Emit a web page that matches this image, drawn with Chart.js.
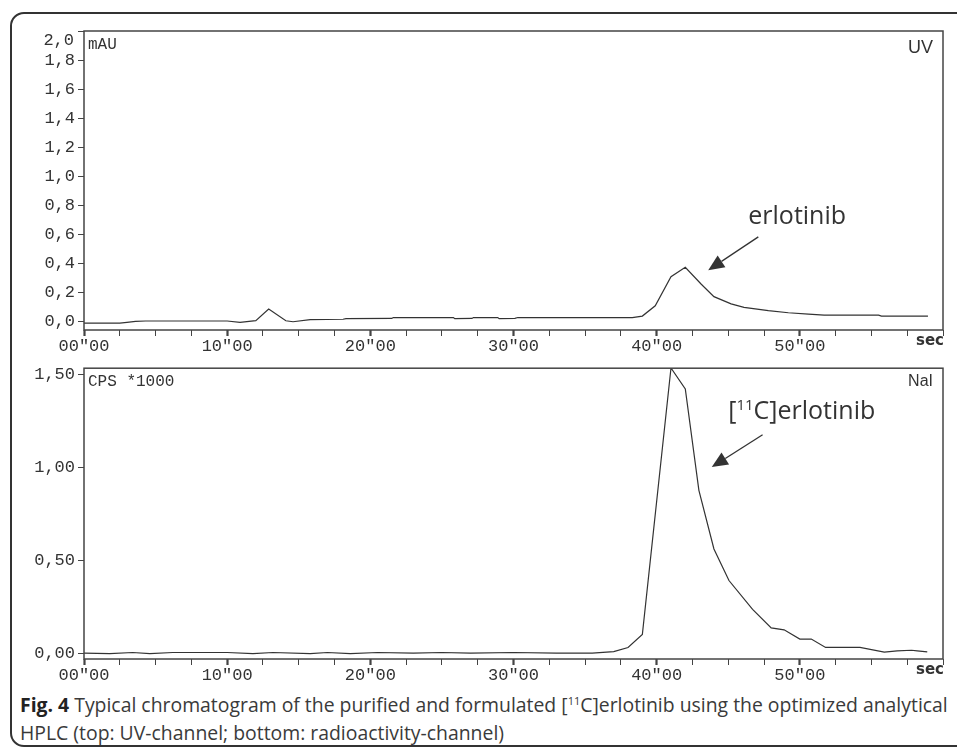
<!DOCTYPE html>
<html>
<head>
<meta charset="utf-8">
<script src="https://cdn.jsdelivr.net/npm/chart.js@4.4.1/dist/chart.umd.min.js"></script>
<style>
    html, body { margin: 0; padding: 0; background: #fff; overflow: hidden; }
    #page { position: relative; width: 957px; height: 749px; }
    #frame { position: absolute; left: 10px; top: 12px; width: 975px; height: 735px;
             border: 2px solid #333; border-radius: 14px; box-sizing: border-box; }
    canvas { position: absolute; left: 0; }
    #uvChart { top: 0; }
    #naiChart { top: 355px; }
    #caption { position: absolute; left: 20px; top: 691px; white-space: nowrap;
               font-family: 'Open Sans', sans-serif; font-size: 19.4px; line-height: 28px; color: #3a3a3a; }
    #caption b { color: #222; }
    #caption sup { font-size: 11px; line-height: 0; vertical-align: 7px; }
</style>
</head>
<body>
<div id="page">
    <div id="frame"></div>
    <canvas id="uvChart" width="957" height="355"></canvas>
    <canvas id="naiChart" width="957" height="335"></canvas>
    <div id="caption"><b>Fig. 4</b> Typical chromatogram of the purified and formulated [<sup>11</sup>C]erlotinib using the optimized analytical<br>HPLC (top: UV-channel; bottom: radioactivity-channel)</div>
</div>

<script>
// ========================================
// DATA
// ========================================

// time axis ticks (minutes), labels only on the majors
const xTickValues = [0, 2.5, 5, 7.5, 10, 12.5, 15, 17.5, 20, 22.5, 25, 27.5, 30,
                     32.5, 35, 37.5, 40, 42.5, 45, 47.5, 50, 52.5, 55, 57.5, 60];
const xMajorValues = [0, 10, 20, 30, 40, 50];
const xMajorLabels = ['00"00', '10"00', '20"00', '30"00', '40"00', '50"00'];

// top: UV channel (mAU)
const uvTicks  = [0, 0.2, 0.4, 0.6, 0.8, 1.0, 1.2, 1.4, 1.6, 1.8, 2.0];
const uvLabels = ['0,0', '0,2', '0,4', '0,6', '0,8', '1,0', '1,2', '1,4', '1,6', '1,8', '2,0'];
const uvTime  = [0, 2.5, 3.0, 3.6, 4.3, 10.0, 10.9, 12.0, 12.9, 14.1,
                 14.6, 15.8, 18.1, 18.3, 21.5, 21.6, 25.8, 25.9, 27.1, 27.2,
                 28.9, 29.0, 30.1, 30.3, 38.3, 39.0, 39.9, 41.0, 42.0, 43.1,
                 44.0, 45.2, 46.1, 47.8, 49.2, 50.6, 51.7, 55.5, 55.7, 58.95];
const uvValue = [-0.015, -0.015, -0.01, -0.003, 0.0, 0.0, -0.01, 0.002, 0.083, 0.002,
                 -0.005, 0.01, 0.012, 0.017, 0.018, 0.024, 0.024, 0.016, 0.018, 0.024,
                 0.024, 0.016, 0.018, 0.024, 0.024, 0.034, 0.105, 0.305, 0.37, 0.255,
                 0.168, 0.118, 0.094, 0.071, 0.057, 0.048, 0.041, 0.041, 0.034, 0.034];

// bottom: NaI radioactivity channel (CPS *1000)
const naiTicks  = [0, 0.5, 1.0, 1.5];
const naiLabels = ['0,00', '0,50', '1,00', '1,50'];
const naiTime  = [0, 1.8, 3.4, 4.6, 6.2, 10, 11.8, 13.2, 15.8, 17,
                  18.6, 20.5, 23, 25, 27, 30, 33, 35.5, 37, 38,
                  39, 41, 42, 42.95, 44, 45.05, 46.7, 48, 48.9, 50,
                  50.8, 51.8, 54.2, 55.9, 56.8, 57.8, 58.2, 58.9];
const naiValue = [0.0, -0.003, 0.003, -0.003, 0.003, 0.003, -0.003, 0.003, -0.003, 0.003,
                  -0.003, 0.003, 0.0, 0.003, 0.0, 0.003, 0.0, 0.0, 0.008, 0.03,
                  0.1, 1.533, 1.42, 0.875, 0.56, 0.39, 0.235, 0.135, 0.125, 0.075,
                  0.075, 0.03, 0.03, 0.005, 0.012, 0.015, 0.012, 0.006];

// ========================================
// HELPERS
// ========================================
const MONO = '"Liberation Mono", "Courier New", monospace';
const INK = '#333';

function drawArrow(ctx, x1, y1, x2, y2) {
    const ang = Math.atan2(y2 - y1, x2 - x1);
    const len = 16, half = 7;
    const bx = x2 - len * Math.cos(ang), by = y2 - len * Math.sin(ang);
    ctx.beginPath();
    ctx.moveTo(x1, y1);
    ctx.lineTo(bx, by);
    ctx.stroke();
    ctx.beginPath();
    ctx.moveTo(x2, y2);
    ctx.lineTo(bx + half * Math.sin(ang), by - half * Math.cos(ang));
    ctx.lineTo(bx - half * Math.sin(ang), by + half * Math.cos(ang));
    ctx.closePath();
    ctx.fill();
}

// frame, channel names, peak annotations
function decorPlugin(cfg) {
    return {
        id: 'decor',
        afterDraw(chart) {
            const { ctx, chartArea: a, scales: { x, y } } = chart;
            ctx.save();
            ctx.strokeStyle = '#444';
            ctx.lineWidth = 1.5;
            ctx.strokeRect(a.left, a.top, a.right - a.left, a.bottom - a.top);

            ctx.fillStyle = INK;
            ctx.textBaseline = 'middle';

            // unit in top-left corner
            ctx.textAlign = 'left';
            ctx.font = '16px ' + MONO;
            ctx.fillText(cfg.unit, a.left + 4, a.top + 14);

            // detector name in top-right corner
            ctx.textAlign = 'right';
            ctx.font = cfg.detectorSize + 'px "Liberation Sans", Arial, sans-serif';
            ctx.fillText(cfg.detector, a.right - 10, a.top + cfg.detectorDy);

            // "sec" at the end of the time axis
            ctx.font = 'bold 15px "DejaVu Sans", sans-serif';
            ctx.fillText('sec', a.right + 1, a.bottom + 11);

            // top y label sits a little lower than its tick
            if (cfg.topLabel) {
                ctx.font = '17px ' + MONO;
                ctx.fillText(cfg.topLabel, a.left - 10, y.getPixelForValue(y.max) + 9);
            }

            // peak label + arrow
            const n = cfg.note;
            ctx.textAlign = 'left';
            ctx.font = '25px "Open Sans", sans-serif';
            let tx = x.getPixelForValue(n.textX);
            const ty = y.getPixelForValue(n.textY);
            if (n.sup) {
                ctx.fillText('[', tx, ty);
                tx += ctx.measureText('[').width;
                ctx.font = '15px "Open Sans", sans-serif';
                ctx.fillText(n.sup, tx, ty - 7);
                tx += ctx.measureText(n.sup).width;
                ctx.font = '25px "Open Sans", sans-serif';
                ctx.fillText(n.text, tx, ty);
            } else {
                ctx.fillText(n.text, tx, ty);
            }
            ctx.strokeStyle = INK;
            ctx.lineWidth = 1.3;
            drawArrow(ctx,
                x.getPixelForValue(n.fromX), y.getPixelForValue(n.fromY),
                x.getPixelForValue(n.toX), y.getPixelForValue(n.toY));
            ctx.restore();
        }
    };
}

function makeChromatogram(canvasId, times, values, yCfg, decor) {
    const el = document.getElementById(canvasId);
    const points = times.map((t, i) => ({ x: t, y: values[i] }));

    return new Chart(el, {
        type: 'line',
        data: {
            datasets: [{
                data: points,
                borderColor: INK,
                borderWidth: 1.2,
                pointRadius: 0,
                tension: 0,
                fill: false
            }]
        },
        options: {
            responsive: false,
            animation: false,
            devicePixelRatio: 1,
            events: [],
            layout: { autoPadding: false, padding: { left: 0, top: yCfg.padTop, right: 14, bottom: 0 } },
            plugins: { legend: { display: false }, tooltip: { enabled: false } },
            scales: {
                x: {
                    type: 'linear',
                    min: 0,
                    max: 60,
                    afterBuildTicks: axis => { axis.ticks = xTickValues.map(v => ({ value: v })); },
                    afterFit: axis => { axis.height = yCfg.xAxisHeight; },
                    border: { display: false },
                    grid: {
                        drawOnChartArea: false,
                        tickLength: 6,
                        color: '#444',
                        tickWidth: c => (c.tick && xMajorValues.includes(c.tick.value)) ? 2.2 : 1
                    },
                    ticks: {
                        autoSkip: false,
                        maxRotation: 0,
                        padding: 0,
                        color: INK,
                        font: { family: MONO, size: 17 },
                        callback: v => {
                            const k = xMajorValues.indexOf(v);
                            return k >= 0 ? xMajorLabels[k] : '';
                        }
                    }
                },
                y: {
                    min: yCfg.min,
                    max: yCfg.max,
                    afterBuildTicks: axis => { axis.ticks = yCfg.ticks.map(v => ({ value: v })); },
                    afterFit: axis => { axis.width = 84; },
                    border: { display: false },
                    grid: { drawOnChartArea: false, tickLength: 6, color: '#444' },
                    ticks: {
                        padding: 3,
                        color: INK,
                        font: { family: MONO, size: 17 },
                        callback: (v, i) => (yCfg.hideTop && i === yCfg.ticks.length - 1) ? '' : yCfg.labels[i]
                    }
                }
            }
        },
        plugins: [decorPlugin(decor)]
    });
}

// ========================================
// CHARTS
// ========================================
document.addEventListener('DOMContentLoaded', function () {
    makeChromatogram('uvChart', uvTime, uvValue,
        { min: -0.062, max: 2.0, ticks: uvTicks, labels: uvLabels, hideTop: true, padTop: 31, xAxisHeight: 25 },
        {
            unit: 'mAU', detector: 'UV', detectorSize: 18, detectorDy: 17, topLabel: '2,0',
            note: { text: 'erlotinib', textX: 46.4, textY: 0.72, fromX: 47.1, fromY: 0.58, toX: 43.6, toY: 0.35 }
        });

    makeChromatogram('naiChart', naiTime, naiValue,
        { min: -0.032, max: 1.532, ticks: naiTicks, labels: naiLabels, hideTop: false, padTop: 7, xAxisHeight: 31 },
        {
            unit: 'CPS *1000', detector: 'NaI', detectorSize: 16, detectorDy: 13,
            note: { text: 'C]erlotinib', sup: '11', textX: 45.0, textY: 1.295, fromX: 47.4, fromY: 1.174, toX: 43.85, toY: 1.0 }
        });
});
</script>
</body>
</html>
